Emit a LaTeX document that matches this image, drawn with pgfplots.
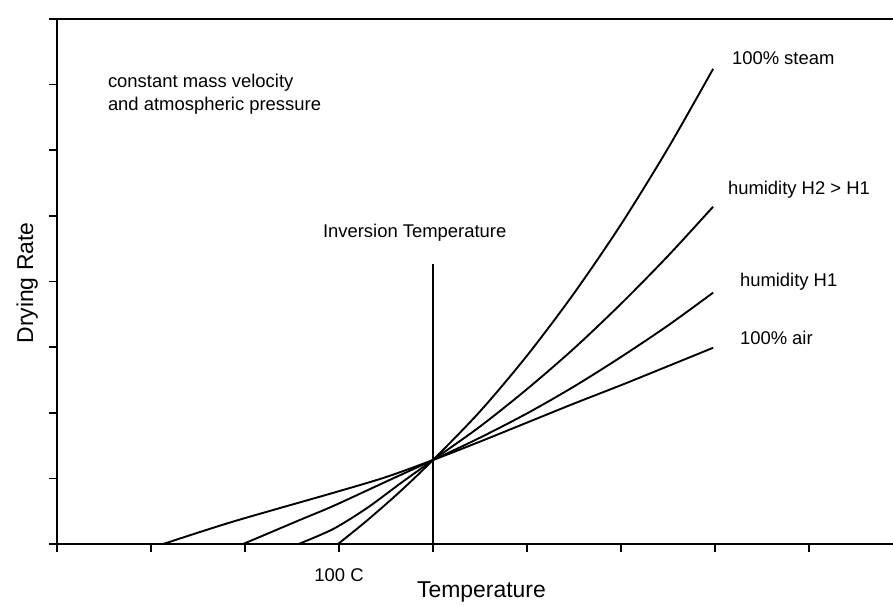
\documentclass[border=0pt]{standalone}
\usepackage{fontspec}
\setmainfont{Liberation Sans}
\usepackage{pgfplots}
\pgfplotsset{compat=1.18}
\begin{document}
\begin{tikzpicture}[x=1bp,y=1bp]
\begin{axis}[
  at={(57bp,62bp)}, anchor=south west,
  scale only axis, width=835.66bp, height=525bp,
  xmin=0, xmax=8.89, ymin=0, ymax=8,
  axis x line=bottom, axis y line=left,
  axis line style={-, line width=2.5bp},
  xtick={0,...,8}, ytick={0,...,8},
  xticklabels={}, yticklabels={},
  tick align=outside, major tick length=8bp,
  tick style={line width=1.6bp, black},
  clip=false,
]
% 100% steam
\addplot[line width=1.9bp, smooth, black] coordinates {
 (2.99,0) (3.30,0.36) (3.65,0.80) (4,1.28) (4.5,2.02) (5,2.87) (5.5,3.82)
 (6,4.87) (6.5,6.03) (6.98,7.24)};
% humidity H2 > H1
\addplot[line width=1.9bp, smooth, black] coordinates {
 (2.57,0) (2.94,0.23) (3.30,0.55) (3.65,0.92) (4,1.28) (4.5,1.79) (5,2.36)
 (5.5,2.98) (6,3.66) (6.5,4.39) (6.98,5.14)};
% humidity H1
\addplot[line width=1.9bp, smooth, black] coordinates {
 (1.98,0) (2.59,0.37) (2.94,0.58) (3.5,0.95) (4,1.28) (4.5,1.62) (5,1.99)
 (5.5,2.40) (6,2.85) (6.5,3.33) (6.98,3.83)};
% 100% air
\addplot[line width=1.9bp, smooth, black] coordinates {
 (1.13,0) (1.87,0.34) (2.94,0.78) (3.5,1.02) (4,1.28) (4.5,1.56) (5,1.85)
 (5.5,2.14) (6,2.42) (6.5,2.71) (6.98,2.99)};
% inversion temperature line
\addplot[line width=2.2bp, black] coordinates {(4,0) (4,4.27)};
\draw[line width=2.2bp] (rel axis cs:0,1) -- (rel axis cs:1,1);
\end{axis}
\begin{scope}[every node/.style={inner sep=0pt, outer sep=0pt}]
\fontsize{18.5}{22}\selectfont
\node[anchor=base west] at (108bp,518bp) {constant mass velocity};
\node[anchor=base west] at (108bp,495bp) {and atmospheric pressure};
\node[anchor=base west] at (323bp,368bp) {Inversion Temperature};
\node[anchor=base west] at (732bp,541bp) {100\% steam};
\node[anchor=base west] at (728bp,411bp) {humidity H2 > H1};
\node[anchor=base west] at (740bp,319bp) {humidity H1};
\node[anchor=base west] at (740bp,261bp) {100\% air};
\node[anchor=base] at (339bp,25bp) {100 C};
\fontsize{23}{27}\selectfont
\node[anchor=base] at (481.5bp,9bp) {Temperature};
\node[anchor=base, rotate=90] at (33bp,323bp) {Drying Rate};
\end{scope}
\pgfresetboundingbox
\path (0,0) rectangle (893bp,606bp);
\end{tikzpicture}
\end{document}
